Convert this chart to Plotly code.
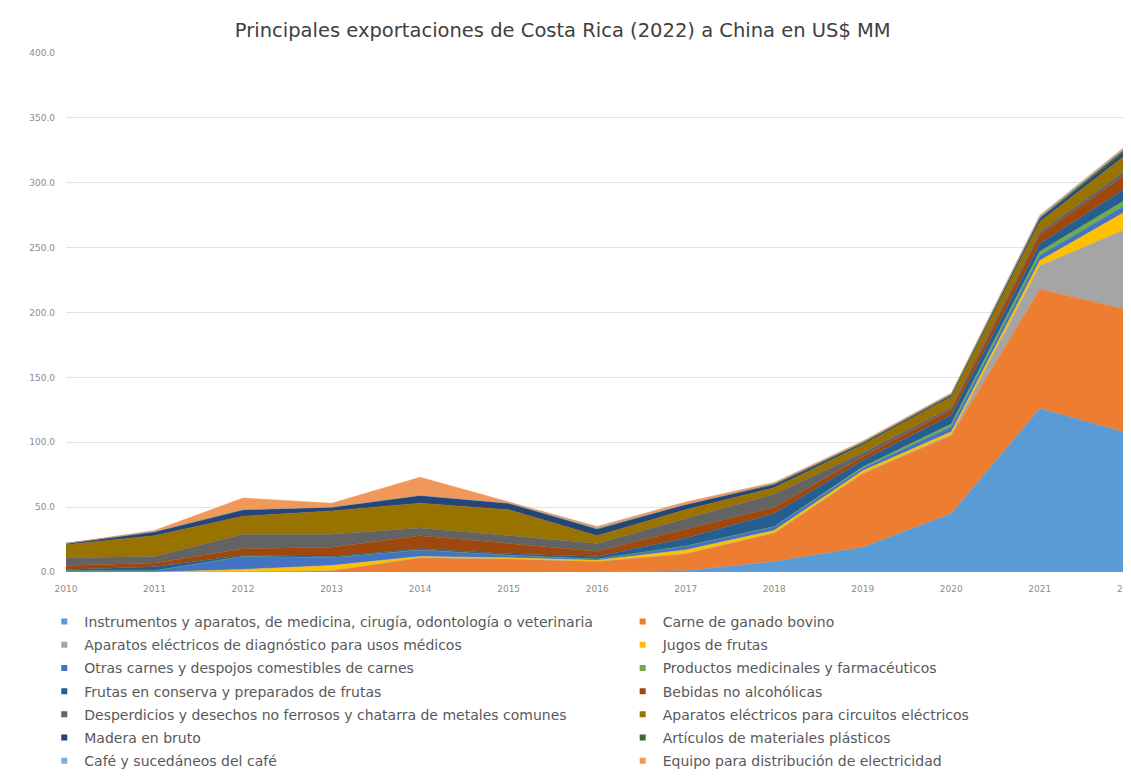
import plotly.graph_objects as go

# years on the x axis
years = [2010, 2011, 2012, 2013, 2014, 2015, 2016, 2017, 2018, 2019, 2020, 2021, 2022]

# series values in US$ MM (stacked bottom to top)
instrumentos = [0, 0, 0, 0, 0, 0, 0, 1, 8, 19, 45, 126, 107]
carne_bovina = [0, 0, 0, 1, 11, 10, 8, 13, 22, 57, 60, 92, 95]
diagnostico = [0, 0, 0, 0, 0, 0, 0, 0, 0, 0, 1, 18, 63]
jugos = [0, 0, 2, 4, 1, 1, 1, 3, 2, 2, 2, 4, 14]
otras_carnes = [1, 1, 10, 6, 5, 2, 1, 3, 3, 2, 4, 4, 5]
medicinales = [0, 0, 0, 0, 0, 0, 0, 0, 0, 1, 2, 3, 4]
frutas_conserva = [1, 3, 1, 1, 1, 1, 2, 6, 10, 5, 7, 6, 9]
bebidas = [3, 3, 5, 7, 10, 8, 4, 7, 5, 3, 4, 7, 11]
desperdicios = [6, 5, 11, 10, 6, 6, 6, 8, 10, 3, 2, 2, 3]
circuitos = [10, 16, 14, 18, 19, 20, 6, 7, 5, 6, 8, 8, 12]
madera = [1, 3, 5, 3, 6, 5, 5, 4, 2, 1, 1, 2, 3]
plasticos = [0, 0, 0, 0, 0, 0, 0, 0, 1, 1, 1, 1, 2]
cafe = [0, 0, 0, 0, 0, 0, 1, 0, 0, 0, 0, 1, 1]
equipo = [0, 1, 9, 3, 14, 1, 1, 2, 1, 1, 1, 1, 1]

names = [
    "Instrumentos y aparatos, de medicina, cirugía, odontología o veterinaria",
    "Carne de ganado bovino",
    "Aparatos eléctricos de diagnóstico para usos médicos",
    "Jugos de frutas",
    "Otras carnes y despojos comestibles de carnes",
    "Productos medicinales y farmacéuticos",
    "Frutas en conserva y preparados de frutas",
    "Bebidas no alcohólicas",
    "Desperdicios y desechos no ferrosos y chatarra de metales comunes",
    "Aparatos eléctricos para circuitos eléctricos",
    "Madera en bruto",
    "Artículos de materiales plásticos",
    "Café y sucedáneos del café",
    "Equipo para distribución de electricidad",
]
series = [instrumentos, carne_bovina, diagnostico, jugos, otras_carnes, medicinales,
          frutas_conserva, bebidas, desperdicios, circuitos, madera, plasticos, cafe, equipo]
colors = ["#5B9BD5", "#ED7D31", "#A5A5A5", "#FFC000", "#4472C4", "#70AD47", "#255E91",
          "#9E480E", "#636363", "#997300", "#264478", "#43682B", "#7CAFDD", "#F1975A"]

fig = go.Figure()

# stacked areas
for name, vals, col in zip(names, series, colors):
    fig.add_trace(go.Scatter(x=years, y=vals, name=name, stackgroup="one",
                             mode="lines", line=dict(width=0.5, color=col),
                             fillcolor=col, showlegend=False))

# legend entries: small squares, two columns (odd items left, even items right)
for i, (name, col) in enumerate(zip(names, colors)):
    fig.add_trace(go.Scatter(x=[None], y=[None], mode="markers", name=name,
                             marker=dict(symbol="square", size=6, color=col),
                             legend="legend" if i % 2 == 0 else "legend2",
                             legendgroup=name))

legend_style = dict(orientation="v", yanchor="top", xanchor="left", y=-0.0654,
                    font=dict(family="DejaVu Sans", size=14, color="#595959"),
                    tracegroupgap=2, bgcolor="rgba(0,0,0,0)", itemclick=False)

# the page body adds 8px around the figure, so the figure is 8px smaller
fig.update_layout(
    width=1123, height=771,
    margin=dict(l=58, r=0, t=45, b=207, autoexpand=False),
    plot_bgcolor="white", paper_bgcolor="white",
    title=dict(text="Principales exportaciones de Costa Rica (2022) a China en US$ MM",
               x=0.494, xref="container", y=0.9715, yref="container", yanchor="middle",
               font=dict(family="DejaVu Sans", size=19.5, color="#404040")),
    legend=dict(x=-0.0204, **legend_style),
    legend2=dict(x=0.5227, **legend_style),
    hovermode="x unified",
)
fig.update_xaxes(range=[2010, 2022.03], tickvals=years, ticktext=[str(y) for y in years],
                 showgrid=False, zeroline=False, showline=False, ticks="",
                 automargin=False, ticklabelstandoff=10, ticklabeloverflow="allow",
                 tickfont=dict(family="DejaVu Sans", size=9, color="#8c8c8c"))
fig.update_yaxes(range=[0, 400], dtick=50, tickformat=".1f", showgrid=True,
                 gridcolor="#e3e3e3", gridwidth=1, zeroline=False, showline=False,
                 automargin=False, ticklabelstandoff=10,
                 tickfont=dict(family="DejaVu Sans", size=9, color="#8c8c8c"))

fig.write_html("out.html")
